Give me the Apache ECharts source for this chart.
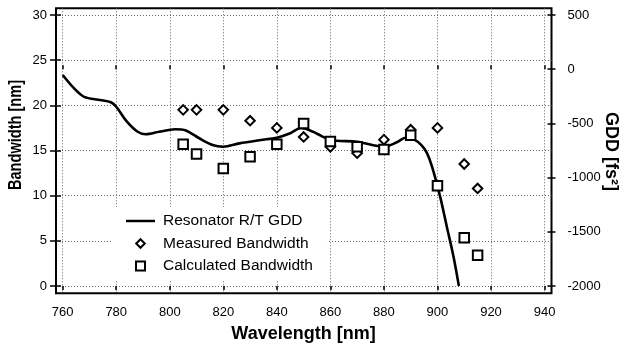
<!DOCTYPE html>
<html><head><meta charset="utf-8">
<script src="https://cdn.jsdelivr.net/npm/echarts@6/dist/echarts.min.js"></script>
<style>html,body{margin:0;padding:0;background:#fff}#c{width:623px;height:343px}</style>
</head><body><div id="c"></div>
<script>
const wavelengthTicks = [760, 780, 800, 820, 840, 860, 880, 900, 920, 940];
const bandwidthTicks = [0, 5, 10, 15, 20, 25, 30];
const gddTicks = [-2000, -1500, -1000, -500, 0, 500];

const gddWavelength = [760, 764, 768, 774, 778, 780, 784, 788, 791, 796, 802, 806, 811, 816, 820, 826, 834, 840, 845, 849, 852, 855, 860, 870, 880, 885, 888, 891, 894, 896, 898, 901, 903.5, 906, 908];
const gddValues = [-54, -170, -255, -284, -305, -346, -484, -577, -600, -577, -554, -565, -637, -699, -715, -684, -653, -632, -591, -542, -560, -595, -653, -669, -715, -672, -632, -645, -700, -770, -900, -1176, -1453, -1730, -2000];

const measuredWavelength = [805, 810, 820, 830, 840, 850, 860, 870, 880, 890, 900, 910, 915];
const measuredBandwidth = [19.5, 19.5, 19.5, 18.3, 17.5, 16.5, 15.4, 14.7, 16.2, 17.3, 17.5, 13.5, 10.8];

const calculatedWavelength = [805, 810, 820, 830, 840, 850, 860, 870, 880, 890, 900, 910, 915];
const calculatedBandwidth = [15.7, 14.6, 13.0, 14.3, 15.7, 18.0, 16.0, 15.4, 15.1, 16.7, 11.1, 5.35, 3.4];

const seriesNames = ['Resonator R/T GDD', 'Measured Bandwidth', 'Calculated Bandwidth'];
const titles = { x: 'Wavelength [nm]', yLeft: 'Bandwidth [nm]', yRight: 'GDD [fs²]' };

const FONT = '"Liberation Sans", Arial, sans-serif';
const pair = (xs, ys) => xs.map((x, i) => [x, ys[i]]);

const tickLine = { color: '#000', width: 1.5 };
const labelStyle = { color: '#000', fontSize: 13, fontFamily: FONT, formatter: v => String(v) };
const gridLine = { show: true, lineStyle: { type: [1, 2], color: '#666', width: 1 } };
const markerStyle = { color: '#fff', borderColor: '#000', borderWidth: 2, opacity: 1 };

// legend icons: an invisible 29x9 frame (move-to points) so that the marker keeps its size
const legendLineIcon = 'path://M0,0L40,0L40,3.4L0,3.4Z';
const legendDiamondIcon = 'path://M0,0M29,9M14.5,0.2L18.8,4.5L14.5,8.8L10.2,4.5Z';
const legendSquareIcon = 'path://M0,0M29,9M10,0L19,0L19,9L10,9Z';

const chart = echarts.init(document.getElementById('c'), null, { renderer: 'canvas' });
chart.setOption({
  backgroundColor: '#fff',
  animation: false,
  grid: {
    left: 56, right: 71.5, top: 8.3, bottom: 49.7,
    show: true, borderColor: '#000', borderWidth: 2, backgroundColor: 'transparent',
    containLabel: false, outerBoundsMode: 'none'
  },
  xAxis: [
    {
      type: 'value', min: 757.5, max: 942.6, position: 'bottom',
      axisLine: { show: false },
      axisTick: { show: true, customValues: wavelengthTicks, length: 4, lineStyle: tickLine },
      axisLabel: Object.assign({ customValues: wavelengthTicks, margin: 13 }, labelStyle),
      splitLine: gridLine
    },
    {
      type: 'value', min: 757.5, max: 942.6, position: 'bottom',
      axisLine: { show: false },
      axisTick: { show: true, inside: true, customValues: wavelengthTicks, length: 4, lineStyle: tickLine },
      axisLabel: { show: false },
      splitLine: { show: false }
    }
  ],
  yAxis: [
    {
      type: 'value', min: -0.81, max: 30.74, position: 'left',
      axisLine: { show: false },
      axisTick: { show: true, customValues: bandwidthTicks, length: 6, lineStyle: tickLine },
      axisLabel: Object.assign({ customValues: bandwidthTicks, margin: 9 }, labelStyle),
      splitLine: gridLine
    },
    {
      type: 'value', min: -2067.3, max: 561.8, position: 'right',
      axisLine: { show: false },
      axisTick: { show: true, customValues: gddTicks, length: 4, lineStyle: tickLine },
      axisLabel: Object.assign({ customValues: gddTicks, margin: 16 }, labelStyle),
      splitLine: { show: false }
    },
    {
      type: 'value', min: -0.81, max: 30.74, position: 'left',
      axisLine: { show: false },
      axisTick: { show: true, inside: true, customValues: bandwidthTicks, length: 5, lineStyle: tickLine },
      axisLabel: { show: false },
      splitLine: { show: false }
    },
    {
      type: 'value', min: -2067.3, max: 561.8, position: 'right',
      axisLine: { show: false },
      axisTick: { show: true, inside: true, customValues: gddTicks, length: 4, lineStyle: tickLine },
      axisLabel: { show: false },
      splitLine: { show: false }
    }
  ],
  legend: {
    orient: 'vertical', left: 111, top: 207,
    padding: [6, 14, 6, 14], backgroundColor: '#fff',
    itemWidth: 29, itemHeight: 9, itemGap: 6.5,
    textStyle: { fontSize: 15.5, color: '#000', fontFamily: FONT, lineHeight: 13, padding: [0, 0, 0, 3] },
    data: [
      { name: seriesNames[0], icon: legendLineIcon, itemStyle: { color: '#000', borderWidth: 0 } },
      { name: seriesNames[1], icon: legendDiamondIcon, itemStyle: { color: '#fff', borderColor: '#000', borderWidth: 2 } },
      { name: seriesNames[2], icon: legendSquareIcon, itemStyle: { color: '#fff', borderColor: '#000', borderWidth: 2 } }
    ]
  },
  graphic: [
    { type: 'text', x: 16.5, y: 135, rotation: Math.PI / 2, scaleX: 0.81,
      style: { text: titles.yLeft, font: 'bold 18px ' + FONT, fill: '#000', align: 'center', verticalAlign: 'middle', textAlign: 'center', textVerticalAlign: 'middle' } },
    { type: 'text', x: 303.5, y: 334,
      style: { text: titles.x, font: 'bold 18px ' + FONT, fill: '#000', align: 'center', verticalAlign: 'middle', textAlign: 'center', textVerticalAlign: 'middle' } },
    { type: 'text', x: 611, y: 151.5, rotation: -Math.PI / 2,
      style: { text: titles.yRight, font: 'bold 18px ' + FONT, fill: '#000', align: 'center', verticalAlign: 'middle', textAlign: 'center', textVerticalAlign: 'middle' } }
  ],
  series: [
    {
      name: seriesNames[0], type: 'line', xAxisIndex: 0, yAxisIndex: 1,
      data: pair(gddWavelength, gddValues),
      symbol: 'none', smooth: 0.3, clip: true,
      lineStyle: { color: '#000', width: 2.6 },
      itemStyle: { color: '#000' }, z: 2
    },
    {
      name: seriesNames[1], type: 'scatter', xAxisIndex: 0, yAxisIndex: 0,
      data: pair(measuredWavelength, measuredBandwidth),
      symbol: 'diamond', symbolSize: 9.5,
      itemStyle: markerStyle, z: 3
    },
    {
      name: seriesNames[2], type: 'scatter', xAxisIndex: 0, yAxisIndex: 0,
      data: pair(calculatedWavelength, calculatedBandwidth),
      symbol: 'rect', symbolSize: 9.5,
      itemStyle: markerStyle, z: 4
    }
  ]
});
</script>
</body></html>
